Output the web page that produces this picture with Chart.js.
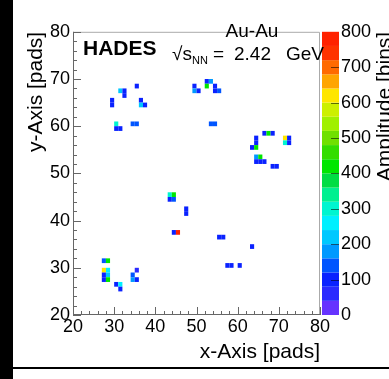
<!DOCTYPE html>
<html>
<head>
<meta charset="utf-8">
<script src="https://cdn.jsdelivr.net/npm/chart.js@4.4.1/dist/chart.umd.min.js"></script>
<style>
  html, body { margin: 0; padding: 0; background: #fff; }
  canvas { display: block; }
</style>
</head>
<body>
<canvas id="graficoPads" width="389" height="379"></canvas>
<script>
// pad hits: lower edge of the pad bin in x / y, and the amplitude
const cellX = [35, 31, 32, 32, 29, 29, 36, 36, 37, 30, 30, 31, 34, 35,
               49, 49, 50, 52, 53, 52, 54, 54, 55, 53, 54,
               66, 67, 68, 64, 64, 63, 64, 71, 71, 72, 72, 64, 65, 64, 65, 66, 68, 69,
               43, 44, 43, 44, 47, 47, 44, 45,
               55, 56, 63, 57, 58, 60,
               27, 28, 27, 28, 27, 28, 27, 28, 30, 31, 31, 35, 34, 34, 35];
const cellY = [68, 67, 67, 66, 65, 64, 65, 64, 64, 60, 59, 59, 60, 60,
               68, 67, 67, 69, 69, 68, 68, 67, 67, 60, 60,
               58, 58, 58, 57, 56, 55, 55, 57, 56, 57, 56, 53, 53, 52, 52, 52, 51, 51,
               45, 45, 44, 44, 42, 41, 37, 37,
               36, 36, 34, 30, 30, 30,
               31, 31, 29, 29, 28, 28, 27, 27, 26, 26, 25, 29, 28, 27, 27];
const cellAmp = [100, 220, 90, 90, 100, 100, 100, 200, 100, 280, 100, 100, 120, 120,
                 110, 190, 100, 100, 170, 420, 100, 100, 130, 120, 130,
                 110, 400, 110, 110, 110, 110, 420, 620, 290, 110, 110, 160, 420, 100, 100, 110, 110, 110,
                 290, 420, 110, 150, 110, 110, 110, 780,
                 110, 110, 110, 110, 100, 110,
                 120, 420, 620, 260, 100, 220, 110, 400, 110, 270, 110, 50, 120, 180, 100];

// colour bands of the amplitude palette, 40 per band from 0 to 800
const bandColors = ['#6633ff', '#2a2aff', '#0a22ff', '#0055ff', '#0099ff', '#00c8ff', '#00f0ff',
                    '#00f5d0', '#00f090', '#00dd44', '#00e600', '#33dd00', '#70e000', '#a0f000',
                    '#ccf000', '#ffe600', '#ffa500', '#ff6a00', '#ff3300', '#ff2200'];
const ampMax = 800;

const FONT = "'Liberation Sans', Arial, Helvetica, sans-serif";

function colorFor(v) {
  const band = Math.min(bandColors.length - 1, Math.max(0, Math.floor(v / (ampMax / bandColors.length))));
  return bandColors[band];
}

const padPlugin = {
  id: 'padPlugin',
  beforeDraw(chart) {
    const ctx = chart.ctx;
    ctx.save();
    ctx.fillStyle = '#fff';
    ctx.fillRect(0, 0, chart.width, chart.height);
    ctx.restore();
  },
  beforeDatasetsDraw(chart) {
    const {ctx, scales: {x, y}} = chart;
    ctx.save();
    ctx.filter = 'blur(0.4px)';
    chart.data.datasets[0].data.forEach(p => {
      const x0 = x.getPixelForValue(p.x - 0.5);
      const x1 = x.getPixelForValue(p.x + 0.5);
      const y0 = y.getPixelForValue(p.y - 0.5);
      const y1 = y.getPixelForValue(p.y + 0.5);
      ctx.fillStyle = colorFor(p.v);
      ctx.fillRect(x0, y1, x1 - x0, y0 - y1);
    });
    ctx.restore();
  },
  afterDraw(chart) {
    const {ctx, chartArea: a, scales: {x, y, z}} = chart;
    ctx.save();

    // frame
    ctx.lineWidth = 1;
    ctx.strokeStyle = '#aaa';
    ctx.beginPath();
    ctx.moveTo(a.left, a.top + 0.5);
    ctx.lineTo(a.right - 0.5, a.top + 0.5);
    ctx.lineTo(a.right - 0.5, a.bottom);
    ctx.stroke();
    ctx.strokeStyle = '#666';
    ctx.beginPath();
    ctx.moveTo(a.left + 0.5, a.top);
    ctx.lineTo(a.left + 0.5, a.bottom - 0.5);
    ctx.lineTo(a.right, a.bottom - 0.5);
    ctx.stroke();

    // ROOT style ticks pointing inside
    ctx.beginPath();
    for (let v = 20; v <= 80; v += 2) {
      const len = v % 10 === 0 ? 8 : 4;
      const px = Math.round(x.getPixelForValue(v)) + 0.5;
      ctx.moveTo(px, a.bottom);
      ctx.lineTo(px, a.bottom - len);
      const py = Math.round(y.getPixelForValue(v)) + 0.5;
      ctx.moveTo(a.left, py);
      ctx.lineTo(a.left + len, py);
    }
    ctx.stroke();

    // colour bar
    const bx0 = a.right + 2, bx1 = a.right + 19;
    const step = ampMax / bandColors.length;
    bandColors.forEach((c, i) => {
      const yb = z.getPixelForValue(i * step);
      const yt = z.getPixelForValue((i + 1) * step);
      ctx.fillStyle = c;
      ctx.fillRect(bx0, yt, bx1 - bx0, yb - yt);
    });
    ctx.strokeStyle = 'rgba(0,0,0,0.55)';
    ctx.beginPath();
    for (let v = 100; v < ampMax; v += 100) {
      const py = Math.round(z.getPixelForValue(v)) + 0.5;
      ctx.moveTo(bx1, py);
      ctx.lineTo(bx1 - 8, py);
    }
    ctx.stroke();

    // texts
    ctx.fillStyle = '#000';
    ctx.textBaseline = 'alphabetic';
    ctx.font = 'bold 21px ' + FONT;
    ctx.textAlign = 'left';
    ctx.fillText('HADES', 83, 55);
    ctx.font = '19px ' + FONT;
    ctx.textAlign = 'center';
    ctx.fillText('Au-Au', 252, 37);
    ctx.textAlign = 'left';
    ctx.fillText('\u221As', 172, 60);
    ctx.font = '11px ' + FONT;
    ctx.fillText('NN', 192, 64);
    ctx.font = '19px ' + FONT;
    ctx.fillText('=', 213, 60);
    ctx.fillText('2.42', 234, 60);
    ctx.fillText('GeV', 286, 60);

    // colour bar title, reading bottom to top
    ctx.translate(385, a.top);
    ctx.rotate(-Math.PI / 2);
    ctx.font = '21px ' + FONT;
    ctx.textAlign = 'right';
    ctx.textBaseline = 'middle';
    ctx.fillText('Amplitude [bins]', 0, 0);
    ctx.restore();

    // dark border of the screenshot
    ctx.save();
    ctx.fillStyle = '#000';
    ctx.fillRect(0, 0, 13, chart.height);
    ctx.fillRect(0, 367, chart.width, 2);
    ctx.restore();
  }
};

Chart.defaults.color = '#000';
Chart.defaults.font.family = FONT;

const ctx = document.getElementById('graficoPads').getContext('2d');
new Chart(ctx, {
  type: 'scatter',
  data: {
    datasets: [{
      label: 'Amplitude',
      data: cellX.map((cx, i) => ({x: cx + 0.5, y: cellY[i] + 0.5, v: cellAmp[i]})),
      pointRadius: 0,
      pointHoverRadius: 0
    }]
  },
  options: {
    responsive: false,
    animation: false,
    devicePixelRatio: 1,
    layout: {
      padding: {left: 13, top: 25, right: 0, bottom: 0}
    },
    plugins: {
      legend: {display: false},
      tooltip: {enabled: false}
    },
    scales: {
      x: {
        type: 'linear',
        min: 20,
        max: 80,
        grid: {display: false, drawTicks: false},
        border: {display: false},
        ticks: {stepSize: 10, autoSkip: false, maxRotation: 0, padding: 1, font: {size: 18}},
        title: {display: true, text: 'x-Axis [pads]', align: 'end', font: {size: 21}, padding: {top: 0, bottom: 14}},
        afterFit(scale) { scale.height = 64; }
      },
      y: {
        type: 'linear',
        min: 20,
        max: 80,
        grid: {display: false, drawTicks: false},
        border: {display: false},
        ticks: {stepSize: 10, autoSkip: false, padding: 3, font: {size: 18}},
        title: {display: true, text: 'y-Axis [pads]', align: 'end', font: {size: 21}, padding: {top: 11, bottom: 0}},
        afterFit(scale) { scale.width = 60; }
      },
      z: {
        type: 'linear',
        position: 'right',
        min: 0,
        max: ampMax,
        grid: {display: false, drawTicks: false},
        border: {display: false},
        ticks: {stepSize: 100, autoSkip: false, padding: 21, font: {size: 18}},
        afterFit(scale) { scale.width = 69; }
      }
    }
  },
  plugins: [padPlugin]
});
</script>
</body>
</html>
